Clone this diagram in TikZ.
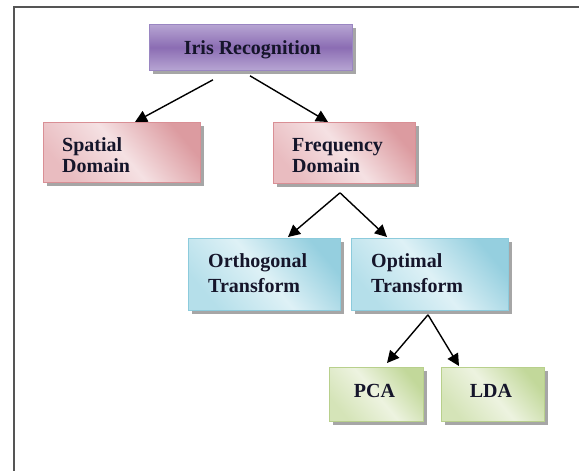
\documentclass[tikz,border=0pt]{standalone}
\usepackage{fontspec}
\setmainfont{Liberation Serif}
\usetikzlibrary{arrows.meta,shadows,calc}
\definecolor{PurD}{HTML}{8B6DB3}
\definecolor{PurL}{HTML}{B7A5D3}
\definecolor{PurB}{HTML}{9A86C2}
\definecolor{PinkD}{HTML}{DC9BA0}
\definecolor{PinkL}{HTML}{F5E1E3}
\definecolor{PinkM}{HTML}{E9BCC0}
\definecolor{PinkB}{HTML}{D98F95}
\definecolor{BlueD}{HTML}{95CFDF}
\definecolor{BlueL}{HTML}{DEF1F6}
\definecolor{BlueM}{HTML}{B5DFEA}
\definecolor{BlueB}{HTML}{8CCBDC}
\definecolor{GreenD}{HTML}{C2D89A}
\definecolor{GreenL}{HTML}{EDF3E0}
\definecolor{GreenM}{HTML}{D5E4B8}
\definecolor{GreenB}{HTML}{B8D08C}
\definecolor{TextC}{HTML}{15152A}
\definecolor{FrameC}{HTML}{555555}
\begin{document}
\begin{tikzpicture}[x=1pt,y=-1pt,
  box/.style={rectangle, anchor=north west, inner sep=0pt, line width=0.8pt,
    drop shadow={shadow xshift=4pt, shadow yshift=-4pt, fill=black, opacity=0.35}},
  purbox/.style={box, draw=PurB, top color=PurL, bottom color=PurL, middle color=PurD},
  pinkbox/.style={box, draw=PinkB, top color=PinkD, bottom color=PinkM, middle color=PinkL, shading angle=-50},
  bluebox/.style={box, draw=BlueB, top color=BlueD, bottom color=BlueM, middle color=BlueL, shading angle=-50},
  greenbox/.style={box, draw=GreenB, top color=GreenD, bottom color=GreenM, middle color=GreenL, shading angle=-50},
  lbl/.style={inner sep=0pt, text=TextC, font=\fontsize{20}{21}\selectfont\bfseries},
  lbltwo/.style={lbl, anchor=north west, align=left},
  lbltwob/.style={inner sep=0pt, text=TextC, font=\fontsize{20}{25}\selectfont\bfseries, anchor=north west, align=left},
  arr/.style={line width=1.4pt, -{Triangle[length=12pt,width=12pt]}}]
\useasboundingbox (0,0) rectangle (579,471);
\draw[line width=1.8pt, FrameC] (14,471) -- (14,7) -- (579,7);

\node[purbox, minimum width=203pt, minimum height=46pt] (iris) at (149,24) {};
\node[pinkbox, minimum width=157pt, minimum height=60pt] (spatial) at (43,122) {};
\node[pinkbox, minimum width=142pt, minimum height=61pt] (freq) at (273,122) {};
\node[bluebox, minimum width=152pt, minimum height=72pt] (orth) at (188,238) {};
\node[bluebox, minimum width=157pt, minimum height=72pt] (opt) at (351,238) {};
\node[greenbox, minimum width=94pt, minimum height=54pt] (pca) at (329,367) {};
\node[greenbox, minimum width=103pt, minimum height=54pt] (lda) at (441,367) {};

\node[lbl, anchor=base] (irist) at ($(iris.north)+(1.5,30)$) {Iris Recognition};
\node[lbltwo] (spatialt) at ($(spatial.north west)+(19,14)$) {\rule{0pt}{15pt}Spatial\\Domain};
\node[lbltwo] (freqt) at ($(freq.north west)+(19,14)$) {\rule{0pt}{15pt}Frequency\\Domain};
\node[lbltwob] (ortht) at ($(orth.north west)+(20,14)$) {\rule{0pt}{15pt}Orthogonal\\Transform};
\node[lbltwob] (optt) at ($(opt.north west)+(20,14)$) {\rule{0pt}{15pt}Optimal\\Transform};
\node[lbl, anchor=base] (pcat) at ($(pca.north)+(-2,30)$) {PCA};
\node[lbl, anchor=base] (ldat) at ($(lda.north)+(-2,30)$) {LDA};

\draw[arr] ($(iris.south west)+(64,9)$) -- ($(spatial.north west)+(92,0)$);
\draw[arr] ($(iris.south west)+(101,5)$) -- ($(freq.north west)+(55,0)$);
\draw[arr] ($(freq.south west)+(67,9)$) -- ($(orth.north west)+(100,-1)$);
\draw[arr] ($(freq.south west)+(67,9)$) -- ($(opt.north west)+(36,-1)$);
\draw[arr] ($(opt.south west)+(77,4)$) -- ($(pca.north west)+(58,-4)$);
\draw[arr] ($(opt.south west)+(77,4)$) -- ($(lda.north west)+(18,-1)$);
\end{tikzpicture}
\end{document}
